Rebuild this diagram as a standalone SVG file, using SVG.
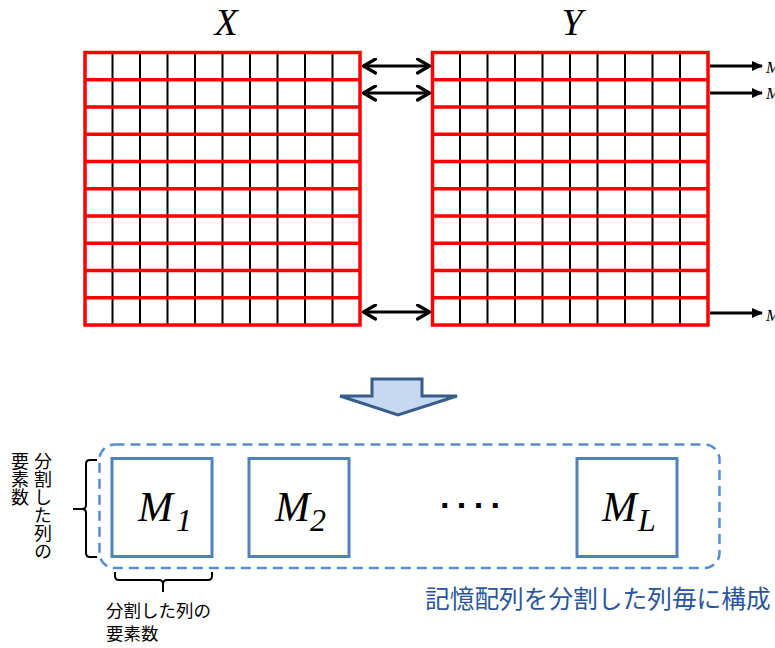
<svg xmlns="http://www.w3.org/2000/svg" width="775" height="648" viewBox="0 0 775 648">
<style>
.vl{stroke:#000;stroke-width:2;}
.hl{stroke:#ff0000;stroke-width:3.5;fill:none;}
.dbl{stroke:#000;stroke-width:2.8;fill:none;marker-start:url(#chev);marker-end:url(#chev);}
.out{stroke:#000;stroke-width:2.8;fill:none;marker-end:url(#tri);}
.title{font-family:"Liberation Serif",serif;font-style:italic;font-size:38px;fill:#000;}
.mm{font-family:"Liberation Serif",serif;font-style:italic;font-size:42px;fill:#000;}
.ms{font-family:"Liberation Serif",serif;font-style:italic;font-size:32px;fill:#000;}
.cut{font-family:"Liberation Serif",serif;font-style:italic;font-size:17px;fill:#000;}
.box{fill:#fff;stroke:#4f81bd;stroke-width:3;}
.jp{font-family:"Noto Sans CJK JP",sans-serif;font-size:17.5px;fill:#000;}
.jpv{font-family:"Noto Sans CJK JP",sans-serif;font-size:18px;fill:#000;writing-mode:vertical-rl;}
.blue{font-family:"Noto Sans CJK JP",sans-serif;font-size:24.7px;fill:#2a5699;}
.brace{stroke:#000;stroke-width:2;fill:none;}
</style>
<defs>
<marker id="chev" viewBox="0 0 15 17" refX="14" refY="8.5" markerWidth="15" markerHeight="17" markerUnits="userSpaceOnUse" orient="auto-start-reverse">
<path d="M1.5,1.5 L13.5,8.5 L1.5,15.5" fill="none" stroke="#000" stroke-width="3.2" stroke-linecap="round" stroke-linejoin="round"/>
</marker>
<marker id="tri" viewBox="0 0 11 10" refX="10" refY="5" markerWidth="11" markerHeight="10" markerUnits="userSpaceOnUse" orient="auto">
<path d="M0,0 L11,5 L0,10 Z" fill="#000"/>
</marker>
</defs>

<g id="title-x"><text class="title" x="226" y="35" text-anchor="middle">X</text></g>
<g id="title-y"><text class="title" x="572" y="35" text-anchor="middle">Y</text></g>

<g id="grid-x">
<path class="vl" d="M112.5,52.5V325M140,52.5V325M167.5,52.5V325M195,52.5V325M222.5,52.5V325M250,52.5V325M277.5,52.5V325M305,52.5V325M332.5,52.5V325"/>
<path class="hl" d="M85,79.75H360M85,107H360M85,134.25H360M85,161.5H360M85,188.75H360M85,216H360M85,243.25H360M85,270.5H360M85,297.75H360"/>
<rect class="hl" x="85" y="52.5" width="275" height="272.5"/>
</g>

<g id="grid-y">
<path class="vl" d="M460,52.5V325M487.5,52.5V325M515,52.5V325M542.5,52.5V325M570,52.5V325M597.5,52.5V325M625,52.5V325M652.5,52.5V325M680,52.5V325"/>
<path class="hl" d="M432.5,79.75H708M432.5,107H708M432.5,134.25H708M432.5,161.5H708M432.5,188.75H708M432.5,216H708M432.5,243.25H708M432.5,270.5H708M432.5,297.75H708"/>
<rect class="hl" x="432.5" y="52.5" width="275.5" height="272.5"/>
</g>

<g id="connectors">
<line class="dbl" x1="363" y1="66" x2="430" y2="66"/>
<line class="dbl" x1="363" y1="93" x2="430" y2="93"/>
<line class="dbl" x1="363" y1="312" x2="430" y2="312"/>
<line class="out" x1="710" y1="66" x2="762" y2="66"/>
<line class="out" x1="710" y1="93" x2="762" y2="93"/>
<line class="out" x1="710" y1="313" x2="762" y2="313"/>
</g>

<g id="cut-labels">
<text class="cut" x="766" y="73">M</text>
<text class="cut" x="766" y="99">M</text>
<text class="cut" x="766" y="321">M</text>
</g>

<g id="big-arrow">
<polygon points="372,379 422,379 422,396 457,396 398,415 340,396 372,396" fill="#c6d9f1" stroke="#385d8a" stroke-width="3" stroke-linejoin="miter"/>
</g>

<g id="group-frame">
<rect x="99.5" y="444.5" width="620" height="123.5" rx="15" ry="15" fill="none" stroke="#558ed5" stroke-width="2.5" stroke-dasharray="10 6"/>
</g>

<g id="m1">
<rect class="box" x="112" y="458.5" width="100" height="98"/>
<text class="mm" x="138" y="521">M</text><text class="ms" x="176" y="531">1</text>
</g>
<g id="m2">
<rect class="box" x="249" y="458.5" width="100" height="98"/>
<text class="mm" x="275" y="521">M</text><text class="ms" x="310" y="531">2</text>
</g>
<g id="dots">
<text x="440" y="517" font-family="Liberation Sans,sans-serif" font-weight="bold" font-size="34" letter-spacing="5.5" fill="#000">····</text>
</g>
<g id="ml">
<rect class="box" x="577" y="458.5" width="100" height="98"/>
<text class="mm" x="602" y="521">M</text><text class="ms" x="638" y="531">L</text>
</g>

<g id="left-brace">
<path class="brace" d="M97,460 H90 Q86,460 86,464 V505 Q86,509 82,509 H73 M82,509 Q86,509 86,513 V553 Q86,557 90,557 H97"/>
<text class="jpv" x="43" y="452">分割した列の</text>
<text class="jpv" x="20" y="452">要素数</text>
</g>

<g id="bottom-brace">
<path class="brace" d="M115,572 V576 Q115,580 119,580 H159 Q163,580 163,584 V592 M163,584 Q163,580 167,580 H208 Q212,580 212,576 V572"/>
<text class="jp" x="106" y="617">分割した列の</text>
<text class="jp" x="106" y="640">要素数</text>
</g>

<g id="caption">
<text class="blue" x="425" y="608">記憶配列を分割した列毎に構成</text>
</g>
</svg>
